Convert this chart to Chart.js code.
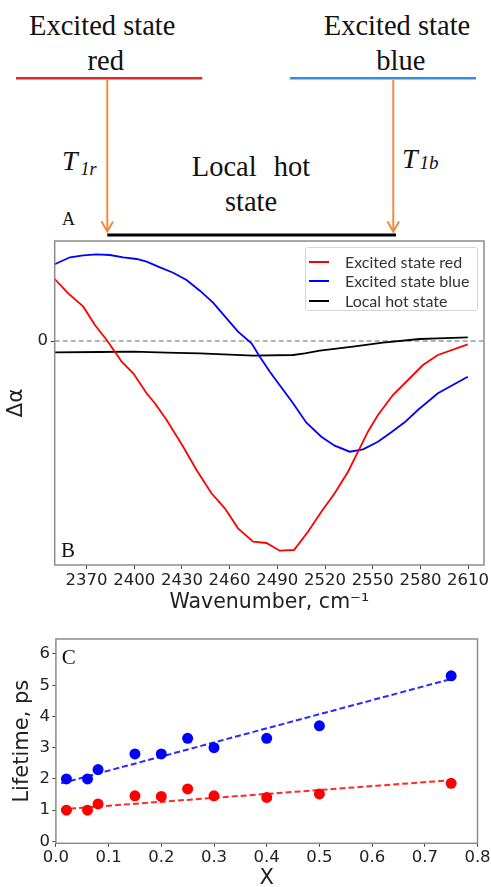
<!DOCTYPE html>
<html>
<head>
<meta charset="utf-8">
<script src="https://cdn.jsdelivr.net/npm/chart.js@4.4.1/dist/chart.umd.min.js"></script>
<style>
  html, body { margin:0; padding:0; background:#fff; }
  body { width:491px; height:887px; overflow:hidden; position:relative; }
  .serif { position:absolute; font-family:'Liberation Serif','Times New Roman',serif; line-height:1; white-space:nowrap; color:#111; }
  .c { transform:translateX(-50%); }
  canvas { position:absolute; left:0; }
  #legendB { position:absolute; left:305px; top:247px; width:171px; height:62px; border:1px solid #d6d6d6; border-radius:3px; background:#fff; font-family:'Lato','Liberation Sans',sans-serif; font-size:16px; color:#333; }
  #legendB .row { position:absolute; left:0; height:18px; line-height:18px; }
  #legendB .sw { position:absolute; left:3px; top:8px; width:20px; height:2px; }
  #legendB .tx { position:absolute; left:39px; top:0; white-space:nowrap; }
</style>
</head>
<body>
<!-- Diagram A -->
<svg width="491" height="240" style="position:absolute;left:0;top:0">
  <line x1="16" y1="78.3" x2="202.3" y2="78.3" stroke="#e02a2a" stroke-width="2.5"/>
  <line x1="290" y1="78.3" x2="476" y2="78.3" stroke="#2e8fe0" stroke-width="2.5"/>
  <line x1="107.3" y1="80" x2="107.3" y2="231" stroke="#f08a3c" stroke-width="2"/>
  <polyline points="101.5,221.5 107.3,231.5 113.1,221.5" fill="none" stroke="#f08a3c" stroke-width="2"/>
  <line x1="393.3" y1="80" x2="393.3" y2="231" stroke="#f08a3c" stroke-width="2"/>
  <polyline points="387.5,221.5 393.3,231.5 399.1,221.5" fill="none" stroke="#f08a3c" stroke-width="2"/>
  <line x1="107.3" y1="235" x2="396" y2="235" stroke="#000" stroke-width="3"/>
</svg>
<div class="serif c" style="left:102.2px;top:11.5px;font-size:28.5px">Excited state</div>
<div class="serif c" style="left:105.8px;top:46.5px;font-size:28.5px">red</div>
<div class="serif c" style="left:397px;top:11.5px;font-size:28.5px">Excited state</div>
<div class="serif c" style="left:400.8px;top:46.5px;font-size:28.5px">blue</div>
<div class="serif c" style="left:251px;top:153.2px;font-size:28.5px;word-spacing:10px">Local hot</div>
<div class="serif c" style="left:251px;top:188.2px;font-size:28.5px">state</div>
<div class="serif" style="left:62px;top:146.5px;font-size:28px;font-style:italic">T</div>
<div class="serif" style="left:80.5px;top:160px;font-size:18px;font-style:italic">1r</div>
<div class="serif" style="left:402px;top:144.9px;font-size:28px;font-style:italic">T</div>
<div class="serif" style="left:419.5px;top:153.2px;font-size:19px;font-style:italic">1b</div>
<div class="serif" style="left:62px;top:210px;font-size:18px">A</div>

<canvas id="chartB" width="491" height="388" style="top:230px"></canvas>
<div id="legendB">
  <div class="row" style="top:5px"><div class="sw" style="background:#ff0000"></div><div class="tx">Excited state red</div></div>
  <div class="row" style="top:24px"><div class="sw" style="background:#0000ff"></div><div class="tx">Excited state blue</div></div>
  <div class="row" style="top:44px"><div class="sw" style="background:#000"></div><div class="tx">Local hot state</div></div>
</div>
<div class="serif" style="left:61px;top:540.4px;font-size:21px">B</div>

<canvas id="chartC" width="491" height="270" style="top:630px"></canvas>
<div class="serif" style="left:61.7px;top:647.4px;font-size:21px">C</div>

<script>
// ---------- Panel B data (wavenumber, cm^-1 ; Δα in arbitrary units) ----------
const redWavenumber = [2350.0, 2358.5, 2368.0, 2375.3, 2382.7, 2390.0, 2392.1, 2399.4, 2407.8, 2413.0, 2420.4, 2430.8, 2439.2, 2448.6, 2457.0, 2465.3, 2474.8, 2483.2, 2491.5, 2500.5, 2509.3, 2517.7, 2526.1, 2534.5, 2541.8, 2547.0, 2553.3, 2562.7, 2572.2, 2581.6, 2591.0, 2609.8];
const redDelta = [6.2, 4.77, 3.43, 1.6, 0.1, -1.57, -2.07, -3.23, -5.23, -6.23, -7.9, -10.57, -12.9, -15.23, -16.73, -18.73, -20.07, -20.2, -20.97, -20.9, -19.07, -17.07, -15.23, -13.07, -10.73, -9.07, -7.4, -5.4, -3.9, -2.4, -1.4, -0.33];

const blueWavenumber = [2350.0, 2359.6, 2368.0, 2376.4, 2384.7, 2393.1, 2401.5, 2407.8, 2416.2, 2424.5, 2432.9, 2441.3, 2449.6, 2458.1, 2465.3, 2473.8, 2479.0, 2485.3, 2499.9, 2508.3, 2517.7, 2526.1, 2535.5, 2543.9, 2553.3, 2561.7, 2570.1, 2578.4, 2591.0, 2609.8];
const blueDelta = [7.67, 8.37, 8.57, 8.67, 8.6, 8.37, 8.2, 7.93, 7.37, 6.83, 6.1, 5.03, 3.83, 2.27, 0.93, -0.23, -1.57, -3.07, -6.23, -8.17, -9.57, -10.47, -11.07, -10.83, -10.07, -9.13, -8.13, -6.9, -5.23, -3.57];

const hotWavenumber = [2350.0, 2378.5, 2399.4, 2420.4, 2441.3, 2474.8, 2499.9, 2507.3, 2516.7, 2537.6, 2556.4, 2579.5, 2591.0, 2609.8];
const hotDelta = [-1.13, -1.1, -1.07, -1.17, -1.23, -1.47, -1.4, -1.23, -0.97, -0.57, -0.17, 0.2, 0.27, 0.37];

const zeroLineX = [2350, 2620];
const zeroLineY = [0, 0];

const xTicksB = [2370, 2400, 2430, 2460, 2490, 2520, 2550, 2580, 2610];
const yTicksB = [0];

// ---------- Panel C data (X ; lifetime, ps) ----------
const xValues = [0.02, 0.06, 0.08, 0.15, 0.20, 0.25, 0.30, 0.40, 0.50, 0.75];
const blueLifetime = [2.0, 2.0, 2.3, 2.8, 2.8, 3.3, 3.0, 3.3, 3.7, 5.3];
const redLifetime = [1.0, 1.0, 1.2, 1.46, 1.44, 1.68, 1.46, 1.41, 1.52, 1.86];
const fitX = [0.01, 0.75];
const blueFit = [1.86, 5.2];
const redFit = [1.03, 1.96];

const xTicksC = [0.0, 0.1, 0.2, 0.3, 0.4, 0.5, 0.6, 0.7, 0.8];
const yTicksC = [0, 1, 2, 3, 4, 5, 6];

// ---------- helpers ----------
const zip = (xs, ys) => xs.map((x, i) => ({x: x, y: ys[i]}));
const boxPlugin = {
  id: 'box',
  afterDraw(chart) {
    const a = chart.chartArea, ctx = chart.ctx;
    ctx.save();
    ctx.strokeStyle = '#8c8c8c';
    ctx.lineWidth = 1.5;
    ctx.strokeRect(a.left, a.top, a.right - a.left, a.bottom - a.top);
    ctx.restore();
  }
};
const tickFont = {family: 'DejaVu Sans', size: 16.5};
const gridOpts = {display: true, drawOnChartArea: false, drawTicks: true, tickLength: 4, color: '#444', tickColor: '#444', lineWidth: 1};

// ---------- Chart B ----------
new Chart(document.getElementById('chartB'), {
  type: 'line',
  data: {
    datasets: [
      {data: zip(redWavenumber, redDelta), borderColor: '#ff0000', borderWidth: 1.8, pointRadius: 0, tension: 0, fill: false},
      {data: zip(blueWavenumber, blueDelta), borderColor: '#0000ff', borderWidth: 1.8, pointRadius: 0, tension: 0, fill: false},
      {data: zip(hotWavenumber, hotDelta), borderColor: '#000000', borderWidth: 1.8, pointRadius: 0, tension: 0, fill: false},
      {data: zip(zeroLineX, zeroLineY), borderColor: '#9a9a9a', borderWidth: 1.3, borderDash: [5, 3], pointRadius: 0, fill: false}
    ]
  },
  options: {
    responsive: false, animation: false, devicePixelRatio: 1,
    layout: {padding: {left: 0, top: 11, right: 7, bottom: 0}},
    plugins: {legend: {display: false}, tooltip: {enabled: false}},
    scales: {
      x: {
        type: 'linear', min: 2350, max: 2620,
        afterBuildTicks: s => { s.ticks = xTicksB.map(v => ({value: v})); },
        afterFit: s => { s.height = 53; s.paddingLeft = 0; s.paddingRight = 0; },
        ticks: {font: tickFont, color: '#222', padding: 2, maxRotation: 0, autoSkip: false, callback: v => String(v)},
        grid: gridOpts, border: {display: false},
        title: {display: true, text: 'Wavenumber, cm\u207B\u00B9', color: '#222', font: {family: 'DejaVu Sans', size: 20.5}, padding: {top: 0, bottom: 3}}
      },
      y: {
        type: 'linear', min: -22.4, max: 10,
        afterBuildTicks: s => { s.ticks = yTicksB.map(v => ({value: v})); },
        afterFit: s => { s.width = 54.7; s.paddingTop = 0; s.paddingBottom = 0; },
        ticks: {font: tickFont, color: '#222', padding: 2.7, callback: v => String(v)},
        grid: gridOpts, border: {display: false},
        title: {display: true, text: '\u0394\u03B1', color: '#222', font: {family: 'DejaVu Sans', size: 21.5}, padding: {top: 4, bottom: 0}}
      }
    }
  },
  plugins: [boxPlugin]
});

// ---------- Chart C ----------
new Chart(document.getElementById('chartC'), {
  type: 'scatter',
  data: {
    datasets: [
      {data: zip(xValues, blueLifetime), backgroundColor: '#0000ff', borderWidth: 0, pointRadius: 5.5, showLine: false},
      {data: zip(xValues, redLifetime), backgroundColor: '#ff0000', borderWidth: 0, pointRadius: 5.5, showLine: false},
      {data: zip(fitX, blueFit), borderColor: '#2a2aff', borderWidth: 2, borderDash: [6, 3], pointRadius: 0, showLine: true, fill: false},
      {data: zip(fitX, redFit), borderColor: '#ff2a2a', borderWidth: 2, borderDash: [6, 3], pointRadius: 0, showLine: true, fill: false}
    ]
  },
  options: {
    responsive: false, animation: false, devicePixelRatio: 1,
    layout: {padding: {left: 0, top: 9, right: 13.5, bottom: 0}},
    plugins: {legend: {display: false}, tooltip: {enabled: false}},
    scales: {
      x: {
        type: 'linear', min: 0, max: 0.8,
        afterBuildTicks: s => { s.ticks = xTicksC.map(v => ({value: v})); },
        afterFit: s => { s.height = 56.7; s.paddingLeft = 0; s.paddingRight = 0; },
        ticks: {font: tickFont, color: '#222', padding: 1.3, maxRotation: 0, autoSkip: false, callback: v => Number(v).toFixed(1)},
        grid: Object.assign({}, gridOpts, {tickLength: 3.5}), border: {display: false},
        title: {display: true, text: 'X', color: '#222', font: {family: 'DejaVu Sans', size: 21}, padding: {top: 0, bottom: 8.4}}
      },
      y: {
        type: 'linear', min: -0.06, max: 6.48,
        afterBuildTicks: s => { s.ticks = yTicksC.map(v => ({value: v})); },
        afterFit: s => { s.width = 55.9; s.paddingTop = 0; s.paddingBottom = 0; },
        ticks: {font: tickFont, color: '#222', padding: 2.5, callback: v => String(v)},
        grid: Object.assign({}, gridOpts, {tickLength: 3.5}), border: {display: false},
        title: {display: true, text: 'Lifetime, ps', color: '#222', font: {family: 'DejaVu Sans', size: 21}, padding: {top: 10, bottom: 0}}
      }
    }
  },
  plugins: [boxPlugin]
});
</script>
</body>
</html>
